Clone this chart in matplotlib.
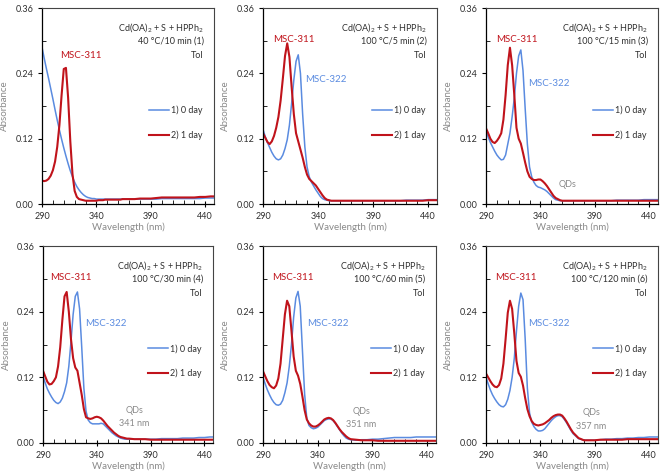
import numpy as np
import matplotlib
matplotlib.use("Agg")
import matplotlib.pyplot as plt
from matplotlib.ticker import MultipleLocator

plt.rcParams['font.family'] = ['Lato', 'DejaVu Sans']
plt.rcParams['mathtext.fontset'] = 'custom'
plt.rcParams['mathtext.rm'] = 'Lato'
plt.rcParams['mathtext.it'] = 'Lato:italic'

# ---------------- data ----------------
wavelength = [290, 292, 294, 296, 298, 300, 302, 304, 306, 308, 310, 312, 314, 316, 318,
              320, 322, 324, 326, 328, 330, 332, 334, 336, 338, 340, 342, 344, 346, 348,
              350, 352, 354, 356, 358, 360, 362, 364, 366, 368, 370, 375, 380, 385, 390,
              395, 400, 405, 410, 415, 420, 425, 430, 435, 440, 445, 448]

p1_day0 = [.288, .268, .249, .231, .212, .193, .173, .154, .136, .119, .103, .088, .074, .061, .050,
           .040, .032, .026, .021, .017, .014, .012, .011, .010, .010, .009, .009, .009, .009, .009,
           .009, .009, .009, .009, .009, .009, .009, .009, .009, .009, .009, .009, .009, .009, .009,
           .009, .010, .010, .010, .010, .010, .010, .010, .010, .011, .011, .011]
p1_day1 = [.043, .042, .043, .046, .052, .062, .078, .105, .145, .200, .248, .250, .195, .115, .055,
           .024, .013, .009, .008, .007, .006, .006, .006, .006, .006, .006, .007, .007, .007, .008,
           .008, .008, .008, .008, .008, .008, .008, .009, .009, .009, .009, .009, .010, .010, .010,
           .011, .012, .012, .012, .012, .012, .012, .012, .013, .013, .014, .014]

p2_day0 = [.137, .124, .113, .104, .095, .088, .083, .081, .083, .090, .102, .118, .145, .185, .228,
           .262, .274, .240, .165, .105, .068, .050, .040, .033, .026, .020, .014, .010, .008, .007,
           .006, .006, .006, .006, .006, .006, .006, .006, .006, .006, .006, .006, .006, .006, .006,
           .006, .006, .006, .006, .006, .007, .007, .007, .007, .008, .008, .008]
p2_day1 = [.130, .122, .114, .110, .115, .125, .140, .160, .190, .230, .272, .295, .270, .215, .165,
           .130, .115, .100, .085, .068, .054, .046, .042, .038, .034, .028, .022, .016, .011, .008,
           .007, .006, .006, .006, .006, .006, .006, .006, .006, .006, .006, .006, .006, .006, .006,
           .006, .006, .006, .006, .006, .006, .006, .006, .006, .007, .007, .007]

p3_day0 = [.134, .123, .113, .105, .097, .090, .085, .081, .082, .090, .110, .130, .160, .195, .240,
           .272, .283, .245, .175, .110, .068, .050, .040, .034, .031, .030, .028, .026, .023, .019,
           .015, .011, .008, .007, .006, .006, .006, .006, .006, .006, .006, .006, .006, .006, .006,
           .006, .006, .006, .007, .007, .007, .007, .007, .008, .008, .008, .008]
p3_day1 = [.139, .130, .120, .114, .112, .116, .122, .130, .155, .200, .255, .287, .255, .200, .140,
           .120, .111, .094, .076, .060, .050, .046, .044, .044, .045, .045, .042, .038, .033, .027,
           .021, .015, .011, .009, .007, .006, .006, .006, .006, .006, .006, .006, .006, .006, .006,
           .006, .006, .006, .006, .006, .006, .006, .006, .006, .006, .006, .006]

p4_day0 = [.122, .110, .099, .091, .084, .078, .074, .072, .075, .082, .094, .110, .140, .185, .235,
           .268, .276, .245, .175, .100, .058, .042, .037, .035, .035, .035, .035, .036, .035, .031,
           .027, .023, .019, .016, .013, .011, .009, .008, .007, .007, .007, .007, .007, .007, .007,
           .007, .008, .008, .008, .008, .009, .009, .009, .010, .010, .011, .011]
p4_day1 = [.132, .122, .112, .107, .108, .113, .120, .140, .175, .225, .268, .276, .240, .190, .155,
           .138, .132, .110, .088, .062, .047, .045, .044, .045, .047, .048, .047, .045, .041, .036,
           .031, .027, .023, .019, .016, .013, .011, .010, .009, .008, .008, .007, .007, .007, .006,
           .006, .006, .006, .006, .006, .006, .006, .006, .006, .006, .006, .006]

p5_day0 = [.120, .108, .097, .088, .080, .074, .070, .069, .071, .078, .092, .110, .140, .180, .230,
           .265, .277, .250, .170, .090, .045, .032, .028, .026, .027, .029, .033, .037, .041, .043,
           .044, .044, .041, .036, .030, .024, .018, .013, .009, .007, .006, .005, .006, .006, .007,
           .007, .008, .009, .010, .010, .010, .010, .011, .011, .011, .011, .011]
p5_day1 = [.131, .122, .113, .106, .102, .100, .105, .118, .145, .190, .235, .260, .250, .205, .158,
           .132, .123, .108, .085, .060, .043, .036, .032, .030, .030, .032, .035, .039, .043, .045,
           .046, .045, .042, .037, .031, .025, .020, .016, .012, .009, .007, .006, .005, .005, .005,
           .004, .004, .004, .004, .004, .004, .004, .004, .004, .004, .004, .004]

p6_day0 = [.120, .108, .097, .088, .081, .075, .070, .067, .066, .070, .080, .096, .120, .155, .205,
           .250, .274, .262, .190, .100, .055, .038, .030, .025, .022, .022, .023, .026, .031, .036,
           .041, .045, .048, .050, .050, .048, .043, .037, .030, .023, .017, .008, .005, .005, .005,
           .006, .007, .007, .008, .008, .009, .009, .010, .010, .011, .011, .011]
p6_day1 = [.127, .120, .113, .107, .103, .102, .106, .118, .145, .190, .238, .260, .245, .200, .150,
           .128, .121, .105, .082, .062, .049, .040, .035, .033, .032, .033, .034, .036, .039, .042,
           .046, .049, .051, .052, .052, .050, .045, .039, .032, .025, .019, .009, .005, .005, .005,
           .006, .006, .006, .006, .006, .007, .007, .007, .007, .007, .007, .007]

series_day0 = [p1_day0, p2_day0, p3_day0, p4_day0, p5_day0, p6_day0]
series_day1 = [p1_day1, p2_day1, p3_day1, p4_day1, p5_day1, p6_day1]
conditions = ["40 °C/10 min (1)", "100 °C/5 min (2)", "100 °C/15 min (3)",
              "100 °C/30 min (4)", "100 °C/60 min (5)", "100 °C/120 min (6)"]
legend_labels = ["1) 0 day", "2) 1 day"]
qd_labels = [None, None, "QDs", "QDs\n341 nm", "QDs\n351 nm", "QDs\n357 nm"]
x_ticks = [290, 340, 390, 440]
y_ticks = [0.00, 0.12, 0.24, 0.36]

# ---------------- style ----------------
BLUE = '#5a8be0'
RED = '#c0131b'
TXT = '#303030'
GRAY = '#8a8a8a'

fig = plt.figure(figsize=(6.64, 4.75), dpi=100)
W, H = 664, 475
boxes = [(42, 8, 172, 196), (263, 8, 174, 196), (486, 8, 172, 196),
         (43, 246, 170, 197), (263, 246, 173, 197), (486, 246, 172, 197)]

# label positions (data coords)
msc311_pos = [(326, 0.272), (318, 0.302), (318, 0.302), (316, 0.302), (317, 0.302), (317, 0.302)]
msc322_pos = [None, (347, 0.228), (348, 0.222), (348, 0.218), (349, 0.218), (348, 0.218)]
qd_pos = [None, None, (365, 0.036), (375, 0.048), (380, 0.045), (387, 0.043)]

wl = np.array(wavelength)
for i in range(6):
    l, t, w, h = boxes[i]
    ax = fig.add_axes([l / W, 1 - (t + h) / H, w / W, h / H])
    ax.plot(wl, series_day0[i], color=BLUE, lw=1.1, label=legend_labels[0])
    ax.plot(wl, series_day1[i], color=RED, lw=1.5, label=legend_labels[1])
    ax.set_xlim(290, 448)
    ax.set_ylim(0, 0.36)
    ax.set_xticks(x_ticks)
    ax.set_yticks(y_ticks)
    ax.set_yticklabels([f"{v:.2f}" for v in y_ticks])
    ax.xaxis.set_minor_locator(MultipleLocator(10))
    ax.yaxis.set_minor_locator(MultipleLocator(0.06))
    ax.tick_params(axis='x', which='major', direction='inout', length=5, width=0.8,
                   labelsize=6.5, labelcolor=TXT, pad=3)
    ax.tick_params(axis='x', which='minor', direction='in', length=3, width=0.6)
    ax.tick_params(axis='y', which='major', direction='out', length=3, width=0.8,
                   labelsize=6.5, labelcolor=TXT, pad=3)
    ax.tick_params(axis='y', which='minor', direction='in', length=3, width=0.6)
    for s in ['left', 'bottom']:
        ax.spines[s].set_color('black')
        ax.spines[s].set_linewidth(0.9)
    for s in ['top', 'right']:
        ax.spines[s].set_color('#444444')
        ax.spines[s].set_linewidth(0.8)
    ax.set_ylabel("Absorbance", fontsize=7, color=GRAY)
    ax.yaxis.set_label_coords(-0.19, 0.5)
    ax.set_xlabel("Wavelength (nm)", fontsize=7, color=GRAY)
    ax.xaxis.set_label_coords(0.5, -0.095)

    ax.text(0.94, 0.90, r"Cd(OA)$_2$ + S + HPPh$_2$", transform=ax.transAxes,
            ha='right', va='center', fontsize=6.5, color=TXT)
    ax.text(0.94, 0.83, conditions[i], transform=ax.transAxes,
            ha='right', va='center', fontsize=6.5, color=TXT)
    ax.text(0.94, 0.76, "Tol", transform=ax.transAxes,
            ha='right', va='center', fontsize=6.5, color=TXT)

    ax.text(*msc311_pos[i], "MSC-311", ha='center', va='center', fontsize=7, color=RED)
    if msc322_pos[i] is not None:
        ax.text(*msc322_pos[i], "MSC-322", ha='center', va='center', fontsize=7, color=BLUE)
    if qd_labels[i] is not None:
        ax.text(*qd_pos[i], qd_labels[i], ha='center', va='center', fontsize=6.5,
                color=GRAY, linespacing=1.6)

    leg = ax.legend(loc='center right', bbox_to_anchor=(0.97, 0.415), frameon=False,
                    fontsize=6.5, handlelength=2.2, handletextpad=0.2, labelspacing=1.7,
                    borderpad=0.2)
    for txt in leg.get_texts():
        txt.set_color(TXT)

fig.savefig("out.png", dpi=100)
